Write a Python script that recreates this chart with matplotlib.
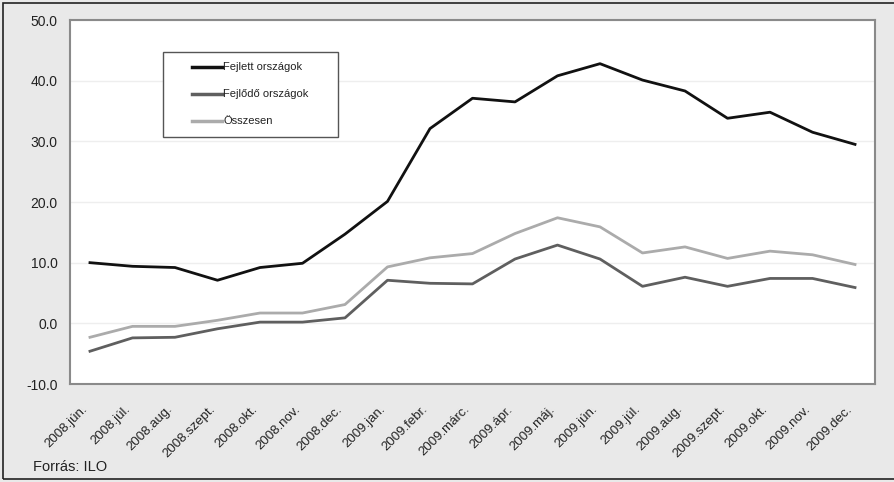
import matplotlib.pyplot as plt
from matplotlib.patches import Rectangle
from matplotlib.lines import Line2D

plt.rcParams['font.family'] = ['Liberation Sans', 'DejaVu Sans']

# Data
months = ['2008.jún.', '2008.júl.', '2008.aug.', '2008.szept.', '2008.okt.',
          '2008.nov.', '2008.dec.', '2009.jan.', '2009.febr.', '2009.márc.',
          '2009.ápr.', '2009.máj.', '2009.jún.', '2009.júl.', '2009.aug.',
          '2009.szept.', '2009.okt.', '2009.nov.', '2009.dec.']
fejlett = [10.0, 9.4, 9.2, 7.1, 9.2, 9.9, 14.7, 20.1, 32.1, 37.1,
           36.5, 40.8, 42.8, 40.1, 38.3, 33.8, 34.8, 31.5, 29.5]
fejlodo = [-4.6, -2.4, -2.3, -0.9, 0.2, 0.2, 0.9, 7.1, 6.6, 6.5,
           10.6, 12.9, 10.6, 6.1, 7.6, 6.1, 7.4, 7.4, 5.9]
osszesen = [-2.3, -0.5, -0.5, 0.5, 1.7, 1.7, 3.1, 9.3, 10.8, 11.5,
            14.8, 17.4, 15.9, 11.6, 12.6, 10.7, 11.9, 11.3, 9.7]

series = [('Fejlett országok', fejlett, '#111111', 2.0),
          ('Fejlődő országok', fejlodo, '#5f5f5f', 2.0),
          ('Összesen', osszesen, '#ababab', 2.0)]

W, H = 894, 482
fig = plt.figure(figsize=(W / 100, H / 100), dpi=100, facecolor='#e9e9e9')
ax = fig.add_axes([70 / W, 1 - 384 / H, 805 / W, 364 / H])
ax.set_facecolor('white')

x = range(len(months))
for name, vals, col, lw in series:
    ax.plot(x, vals, color=col, linewidth=lw, solid_joinstyle='round')

ax.set_xlim(-0.47, len(months) - 1 + 0.47)
ax.set_ylim(-10, 50)
ax.set_yticks(range(-10, 51, 10))
ax.set_yticklabels([f'{v:.1f}' for v in range(-10, 51, 10)], fontsize=10, color='#222222')
ax.set_xticks(list(x))
ax.set_xticklabels(months, rotation=45, ha='right', va='top', fontsize=9.5, color='#222222')
ax.tick_params(axis='both', length=0)
ax.tick_params(axis='x', pad=14)
ax.tick_params(axis='y', pad=9)
ax.grid(axis='y', color='#eeeeee', linewidth=1)
ax.set_axisbelow(True)
for s in ax.spines.values():
    s.set_color('#8a8a8a')
    s.set_linewidth(1.5)

# Legend drawn manually in figure pixels
def fx(px):
    return px / W

def fy(py):
    return 1 - py / H

fig.add_artist(Rectangle((fx(163), fy(137)), fx(175), 85 / H, transform=fig.transFigure,
                         facecolor='white', edgecolor='#555555', linewidth=1, zorder=5))
for i, (name, vals, col, lw) in enumerate(series):
    yy = 67 + i * 27
    fig.add_artist(Line2D([fx(192), fx(222)], [fy(yy), fy(yy)], transform=fig.transFigure,
                          color=col, linewidth=lw + 0.5, zorder=6))
    fig.text(fx(223), fy(yy), name, fontsize=8, va='center', ha='left', color='#222222', zorder=6)

fig.text(fx(33), fy(467), 'Forrás: ILO', fontsize=10.5, va='center', ha='left', color='#222222')

# outer frame
fig.add_artist(Rectangle((fx(3), fy(479)), fx(895), 476 / H, transform=fig.transFigure,
                         facecolor='none', edgecolor='#222222', linewidth=1.2))

fig.savefig('out.png', dpi=100, facecolor=fig.get_facecolor())
